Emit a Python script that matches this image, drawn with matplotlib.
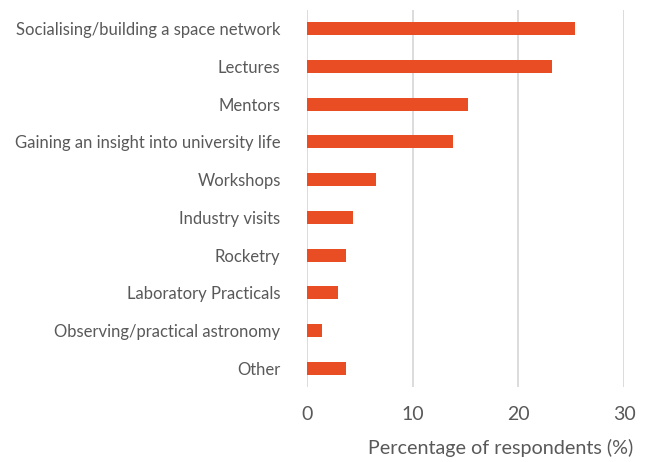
import numpy as np
import matplotlib.pyplot as plt

# Data
activities = [
    'Socialising/building a space network',
    'Lectures',
    'Mentors',
    'Gaining an insight into university life',
    'Workshops',
    'Industry visits',
    'Rocketry',
    'Laboratory Practicals',
    'Observing/practical astronomy',
    'Other',
]
percentages = [25.4, 23.2, 15.2, 13.8, 6.5, 4.35, 3.65, 2.9, 1.45, 3.65]
x_ticks = [0, 10, 20, 30]

plt.rcParams['font.family'] = ['Lato', 'DejaVu Sans']
text_grey = '#595959'

fig = plt.figure(figsize=(6.51, 4.62), dpi=100)
ax = fig.add_axes([307 / 651, 1 - 387 / 462, (624 - 307) / 651, (387 - 10) / 462])

y = np.arange(len(activities))
ax.barh(y, percentages, height=0.345, color='#E84D23', zorder=3)

ax.set_ylim(len(activities) - 0.5, -0.5)
ax.set_xlim(0, 30)
ax.set_xticks(x_ticks)
ax.set_yticks(y)
ax.set_yticklabels(activities, fontsize=12, color=text_grey)
ax.tick_params(axis='x', length=0, pad=14, labelsize=14, labelcolor=text_grey)
ax.tick_params(axis='y', length=0, pad=19)

ax.grid(axis='x', color='#D9D9D9', linewidth=1.3, zorder=0)
for side in ['top', 'right', 'bottom', 'left']:
    ax.spines[side].set_visible(False)

fig.text(633 / 651, 1 - 448 / 462, 'Percentage of respondents (%)', ha='right', va='center',
         fontsize=14.2, color=text_grey)

fig.savefig('out.png', dpi=100)
